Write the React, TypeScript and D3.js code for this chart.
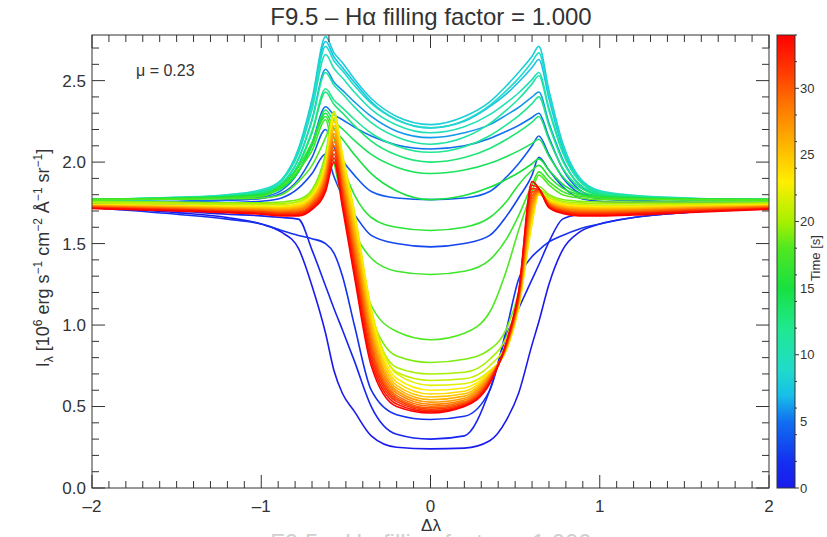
import React, { useEffect } from "react";
import * as d3 from "d3";

const dl = [-2.0, -1.5, -1.2, -1.0, -0.88, -0.78, -0.7, -0.62, -0.57, -0.52, -0.45, -0.35, -0.2, 0, 0.2, 0.35, 0.45, 0.52, 0.6, 0.64, 0.7, 0.78, 0.88, 1.0, 1.2, 1.5, 2.0];

// H-alpha intensity profiles, one per time step
const t00 = [1.72, 1.69, 1.66, 1.62, 1.57, 1.47, 1.24, 0.95, 0.72, 0.58, 0.47, 0.32, 0.25, 0.24, 0.245, 0.29, 0.42, 0.58, 0.88, 1.02, 1.25, 1.46, 1.57, 1.62, 1.66, 1.69, 1.72];
const t01 = [1.72, 1.70, 1.68, 1.67, 1.66, 1.65, 1.46, 1.24, 1.10, 0.97, 0.78, 0.50, 0.33, 0.30, 0.32, 0.60, 0.94, 1.10, 1.28, 1.37, 1.51, 1.65, 1.68, 1.69, 1.70, 1.71, 1.72];
const t02 = [1.72, 1.68, 1.65, 1.62, 1.58, 1.55, 1.53, 1.50, 1.44, 1.30, 1.00, 0.60, 0.45, 0.42, 0.44, 0.60, 0.98, 1.28, 1.42, 1.46, 1.51, 1.55, 1.59, 1.62, 1.66, 1.69, 1.72];
const t03 = [1.74, 1.745, 1.75, 1.76, 1.78, 1.84, 1.93, 2.05, 1.91, 1.79, 1.68, 1.55, 1.50, 1.48, 1.50, 1.55, 1.67, 1.78, 1.92, 2.03, 1.95, 1.85, 1.78, 1.76, 1.75, 1.745, 1.74];
const t04 = [1.75, 1.757, 1.764, 1.777, 1.809, 1.894, 2.029, 2.20, 2.09, 2.01, 1.92, 1.82, 1.78, 1.77, 1.78, 1.82, 1.91, 1.99, 2.10, 2.16, 2.045, 1.906, 1.81, 1.775, 1.762, 1.754, 1.75];
const t05 = [1.75, 1.76, 1.768, 1.785, 1.827, 1.94, 2.116, 2.34, 2.29, 2.26, 2.215, 2.16, 2.105, 2.08, 2.10, 2.145, 2.19, 2.225, 2.274, 2.30, 2.15, 1.96, 1.83, 1.78, 1.767, 1.755, 1.75];
const t06 = [1.76, 1.772, 1.784, 1.81, 1.865, 2.019, 2.262, 2.57, 2.49, 2.44, 2.37, 2.28, 2.19, 2.15, 2.18, 2.23, 2.29, 2.335, 2.40, 2.43, 2.24, 2.02, 1.86, 1.80, 1.78, 1.767, 1.76];
const t07 = [1.76, 1.775, 1.79, 1.82, 1.887, 2.074, 2.368, 2.74, 2.645, 2.58, 2.49, 2.37, 2.26, 2.21, 2.25, 2.34, 2.42, 2.49, 2.58, 2.63, 2.39, 2.09, 1.89, 1.81, 1.79, 1.77, 1.76];
const t08 = [1.76, 1.775, 1.79, 1.82, 1.891, 2.083, 2.386, 2.77, 2.67, 2.61, 2.51, 2.39, 2.28, 2.23, 2.28, 2.37, 2.47, 2.55, 2.65, 2.71, 2.44, 2.12, 1.90, 1.82, 1.79, 1.77, 1.76];
const t09 = [1.77, 1.784, 1.80, 1.83, 1.892, 2.071, 2.353, 2.71, 2.62, 2.56, 2.47, 2.36, 2.26, 2.21, 2.256, 2.348, 2.44, 2.514, 2.615, 2.67, 2.42, 2.11, 1.905, 1.824, 1.797, 1.78, 1.77];
const t10 = [1.77, 1.783, 1.797, 1.823, 1.886, 2.055, 2.322, 2.66, 2.574, 2.516, 2.43, 2.324, 2.228, 2.18, 2.217, 2.291, 2.365, 2.424, 2.506, 2.55, 2.33, 2.07, 1.887, 1.817, 1.793, 1.778, 1.77];
const t11 = [1.77, 1.782, 1.793, 1.817, 1.871, 2.02, 2.254, 2.55, 2.471, 2.418, 2.339, 2.242, 2.154, 2.11, 2.152, 2.236, 2.32, 2.387, 2.48, 2.53, 2.317, 2.059, 1.884, 1.816, 1.793, 1.778, 1.77];
const t12 = [1.77, 1.78, 1.79, 1.811, 1.858, 1.988, 2.192, 2.45, 2.38, 2.333, 2.263, 2.177, 2.099, 2.06, 2.094, 2.162, 2.23, 2.284, 2.359, 2.40, 2.224, 2.009, 1.865, 1.808, 1.789, 1.776, 1.77];
const t13 = [1.77, 1.78, 1.79, 1.81, 1.856, 1.981, 2.179, 2.43, 2.353, 2.301, 2.224, 2.129, 2.043, 2.00, 2.028, 2.084, 2.14, 2.185, 2.246, 2.28, 2.137, 1.964, 1.847, 1.80, 1.785, 1.775, 1.77];
const t14 = [1.77, 1.778, 1.787, 1.803, 1.842, 1.946, 2.111, 2.32, 2.25, 2.203, 2.133, 2.047, 1.969, 1.93, 1.951, 1.993, 2.035, 2.069, 2.115, 2.14, 2.036, 1.911, 1.826, 1.792, 1.781, 1.774, 1.77];
const t15 = [1.77, 1.778, 1.786, 1.80, 1.839, 1.94, 2.099, 2.30, 2.205, 2.141, 2.046, 1.929, 1.823, 1.77, 1.795, 1.845, 1.895, 1.935, 1.99, 2.02, 1.95, 1.865, 1.808, 1.785, 1.778, 1.773, 1.77];
const t16 = [1.77, 1.776, 1.783, 1.795, 1.86, 1.97, 2.12, 2.28, 2.15, 1.98, 1.80, 1.66, 1.60, 1.58, 1.60, 1.66, 1.76, 1.86, 1.95, 1.98, 1.91, 1.84, 1.80, 1.785, 1.776, 1.772, 1.77];
const t17 = [1.77, 1.775, 1.78, 1.79, 1.85, 1.95, 2.07, 2.26, 2.00, 1.76, 1.57, 1.41, 1.33, 1.31, 1.33, 1.40, 1.53, 1.67, 1.86, 1.94, 1.88, 1.82, 1.79, 1.78, 1.775, 1.77, 1.77];
const t18 = [1.77, 1.772, 1.775, 1.78, 1.80, 1.88, 1.98, 2.15, 2.27, 1.87, 1.51, 1.12, 0.96, 0.91, 0.95, 1.08, 1.34, 1.58, 1.82, 1.92, 1.86, 1.80, 1.78, 1.77, 1.77, 1.77, 1.765];
const t19 = [1.76, 1.755, 1.75, 1.75, 1.755, 1.77, 1.83, 2.05, 2.30, 1.98, 1.62, 1.06, 0.81, 0.77, 0.79, 0.85, 0.98, 1.20, 1.68, 1.85, 1.80, 1.77, 1.76, 1.755, 1.755, 1.755, 1.755];
const t20 = [1.755, 1.75, 1.745, 1.745, 1.745, 1.76, 1.82, 2.02, 2.31, 2.0, 1.64, 1.07, 0.74, 0.70, 0.71, 0.79, 0.93, 1.16, 1.66, 1.83, 1.79, 1.76, 1.75, 1.745, 1.745, 1.745, 1.75];
const t21 = [1.75, 1.745, 1.74, 1.74, 1.74, 1.755, 1.81, 2.01, 2.30, 2.02, 1.67, 1.09, 0.71, 0.66, 0.67, 0.75, 0.89, 1.13, 1.64, 1.81, 1.78, 1.75, 1.74, 1.735, 1.735, 1.74, 1.745];
const t22 = [1.74, 1.735, 1.73, 1.73, 1.73, 1.745, 1.80, 2.00, 2.30, 2.05, 1.70, 1.10, 0.70, 0.63, 0.64, 0.72, 0.85, 1.10, 1.62, 1.80, 1.77, 1.745, 1.735, 1.73, 1.73, 1.735, 1.74];
const t23 = [1.738, 1.732, 1.727, 1.726, 1.725, 1.739, 1.793, 1.985, 2.275, 2.023, 1.667, 1.071, 0.672, 0.600, 0.614, 0.713, 0.854, 1.108, 1.642, 1.803, 1.766, 1.740, 1.730, 1.725, 1.725, 1.731, 1.738];
const t24 = [1.736, 1.729, 1.723, 1.722, 1.720, 1.733, 1.785, 1.970, 2.250, 1.995, 1.633, 1.042, 0.650, 0.577, 0.594, 0.707, 0.858, 1.117, 1.663, 1.807, 1.762, 1.735, 1.724, 1.720, 1.721, 1.728, 1.735];
const t25 = [1.734, 1.726, 1.720, 1.718, 1.715, 1.726, 1.778, 1.955, 2.225, 1.968, 1.600, 1.013, 0.630, 0.558, 0.578, 0.700, 0.863, 1.125, 1.685, 1.810, 1.758, 1.730, 1.719, 1.715, 1.716, 1.724, 1.733];
const t26 = [1.732, 1.723, 1.717, 1.713, 1.710, 1.720, 1.770, 1.940, 2.200, 1.940, 1.567, 0.983, 0.613, 0.542, 0.564, 0.693, 0.867, 1.133, 1.707, 1.813, 1.753, 1.725, 1.713, 1.710, 1.712, 1.720, 1.730];
const t27 = [1.730, 1.720, 1.713, 1.709, 1.705, 1.714, 1.763, 1.925, 2.175, 1.913, 1.533, 0.954, 0.597, 0.527, 0.551, 0.687, 0.871, 1.142, 1.728, 1.817, 1.749, 1.720, 1.708, 1.705, 1.707, 1.716, 1.728];
const t28 = [1.728, 1.718, 1.710, 1.705, 1.700, 1.708, 1.755, 1.910, 2.150, 1.885, 1.500, 0.925, 0.582, 0.513, 0.540, 0.680, 0.875, 1.150, 1.750, 1.820, 1.745, 1.715, 1.703, 1.700, 1.703, 1.713, 1.725];
const t29 = [1.725, 1.715, 1.707, 1.701, 1.695, 1.701, 1.748, 1.895, 2.125, 1.858, 1.467, 0.896, 0.567, 0.502, 0.530, 0.673, 0.879, 1.158, 1.772, 1.823, 1.741, 1.710, 1.697, 1.695, 1.698, 1.709, 1.723];
const t30 = [1.723, 1.712, 1.703, 1.697, 1.690, 1.695, 1.740, 1.880, 2.100, 1.830, 1.433, 0.867, 0.555, 0.492, 0.522, 0.667, 0.883, 1.167, 1.793, 1.827, 1.737, 1.705, 1.692, 1.690, 1.693, 1.705, 1.720];
const t31 = [1.721, 1.709, 1.700, 1.693, 1.685, 1.689, 1.733, 1.865, 2.075, 1.803, 1.400, 0.838, 0.543, 0.483, 0.515, 0.660, 0.888, 1.175, 1.815, 1.830, 1.733, 1.700, 1.686, 1.685, 1.689, 1.701, 1.718];
const t32 = [1.719, 1.706, 1.697, 1.688, 1.680, 1.683, 1.725, 1.850, 2.050, 1.775, 1.367, 0.808, 0.530, 0.475, 0.509, 0.653, 0.892, 1.183, 1.837, 1.833, 1.728, 1.695, 1.681, 1.680, 1.684, 1.698, 1.715];
const t33 = [1.717, 1.703, 1.693, 1.684, 1.675, 1.676, 1.718, 1.835, 2.025, 1.748, 1.333, 0.779, 0.515, 0.467, 0.504, 0.647, 0.896, 1.192, 1.858, 1.837, 1.724, 1.690, 1.675, 1.675, 1.680, 1.694, 1.713];
const t34 = [1.715, 1.70, 1.69, 1.68, 1.67, 1.67, 1.71, 1.82, 2.00, 1.72, 1.30, 0.75, 0.50, 0.46, 0.50, 0.64, 0.90, 1.20, 1.88, 1.84, 1.72, 1.685, 1.67, 1.67, 1.675, 1.69, 1.71];

const times = [0, 1, 2, 3, 4, 5, 6, 7, 8, 9, 10, 11, 12, 13, 14, 15, 16, 17, 18, 19, 20, 21, 22, 23, 24, 25, 26, 27, 28, 29, 30, 31, 32, 33, 34];
const profiles = [t00, t01, t02, t03, t04, t05, t06, t07, t08, t09, t10, t11, t12, t13, t14, t15, t16, t17, t18, t19, t20, t21, t22, t23, t24, t25, t26, t27, t28, t29, t30, t31, t32, t33, t34];

const xMajor = [-2, -1, 0, 1, 2];
const yMajor = [0, 0.5, 1, 1.5, 2, 2.5];
const cbMajor = [0, 5, 10, 15, 20, 25, 30];
const colorTimes = [0, 2, 5, 7, 9, 12, 15, 18, 20, 23, 26, 29, 31, 34];
const colorHex = ["#1a1aee", "#1430f0", "#1070f0", "#18c0e8", "#20dcc8", "#20e890", "#18e040", "#50e820", "#a8f000", "#ffee00", "#ffb000", "#ff7000", "#ff4000", "#ff0000"];

const title = "F9.5 \u2013 H\u03b1 filling factor = 1.000";
const muLabel = "\u03bc = 0.23";

const FONT = "'Liberation Sans', Arial, Helvetica, sans-serif";
const INK = "#333";

export default function App() {
  useEffect(() => {
    document.body.style.margin = "0";
    document.body.style.overflow = "hidden";
  }, []);

  const x = d3.scaleLinear().domain([-2, 2]).range([92, 769]);
  const y = d3.scaleLinear().domain([0, 2.78]).range([488, 35]);
  const tY = d3.scaleLinear().domain([0, 34]).range([488, 35]);
  const color = d3.scaleLinear<string>().domain(colorTimes).range(colorHex);

  const line = d3
    .line<number>()
    .x((_, i) => x(dl[i]))
    .y((v) => y(v))
    .curve(d3.curveMonotoneX);

  const [x0, x1] = x.range();
  const [y0, y1] = y.range();
  const xMinor = x.ticks(40);
  const yMinor = y.ticks(30);
  const cbMinor = tY.ticks(14);

  return (
    <svg width={827} height={537} style={{ display: "block", background: "#fff" }} fontFamily={FONT}>
      <defs>
        <clipPath id="plot">
          <rect x={x0} y={y1} width={x1 - x0} height={y0 - y1} />
        </clipPath>
        <linearGradient id="cbar" x1="0" y1="1" x2="0" y2="0">
          {colorTimes.map((t, i) => (
            <stop key={i} offset={t / 34} stopColor={colorHex[i]} />
          ))}
        </linearGradient>
      </defs>

      <text x={431} y={25} textAnchor="middle" fontSize={24} fill={INK}>
        {title}
      </text>

      <g clipPath="url(#plot)" fill="none" strokeWidth={1.6} strokeLinejoin="round">
        {profiles.map((p, i) => (
          <path key={i} d={line(p) ?? ""} stroke={color(times[i])} />
        ))}
      </g>

      {/* frame and ticks */}
      <rect x={x0} y={y1} width={x1 - x0} height={y0 - y1} fill="none" stroke={INK} strokeWidth={1} />
      <g stroke={INK} strokeWidth={1}>
        {xMinor.map((v) => {
          const big = xMajor.includes(+v.toFixed(1));
          const len = big ? 13 : 7;
          return (
            <g key={"xt" + v}>
              <line x1={x(v)} x2={x(v)} y1={y0} y2={y0 - len} />
              <line x1={x(v)} x2={x(v)} y1={y1} y2={y1 + len} />
            </g>
          );
        })}
        {yMinor.map((v) => {
          const big = yMajor.includes(+v.toFixed(1));
          const len = big ? 13 : 7;
          return (
            <g key={"yt" + v}>
              <line x1={x0} x2={x0 + len} y1={y(v)} y2={y(v)} />
              <line x1={x1} x2={x1 - len} y1={y(v)} y2={y(v)} />
            </g>
          );
        })}
      </g>

      <g fontSize={17} fill={INK}>
        {xMajor.map((v) => (
          <text key={"xl" + v} x={x(v)} y={512} textAnchor="middle">
            {v < 0 ? "\u2013" + Math.abs(v) : String(v)}
          </text>
        ))}
        {yMajor.map((v) => (
          <text key={"yl" + v} x={86} y={y(v)} dy="0.35em" textAnchor="end">
            {v.toFixed(1)}
          </text>
        ))}
      </g>

      <text x={431} y={531} textAnchor="middle" fontSize={17} fill={INK}>
        {"\u0394\u03bb"}
      </text>

      <text x={136} y={76} fontSize={16} fill={INK}>
        {muLabel}
      </text>

      <g transform="translate(49,258) rotate(-90)">
        <text textAnchor="middle" fontSize={18} fill={INK}>
          <tspan>I</tspan>
          <tspan fontSize={12} dy={4}>{"\u03bb"}</tspan>
          <tspan dy={-4}>{" [10"}</tspan>
          <tspan fontSize={12} dy={-7}>6</tspan>
          <tspan dy={7}>{" erg s"}</tspan>
          <tspan fontSize={12} dy={-7}>{"\u22121"}</tspan>
          <tspan dy={7}>{" cm"}</tspan>
          <tspan fontSize={12} dy={-7}>{"\u22122"}</tspan>
          <tspan dy={7}>{" \u00c5"}</tspan>
          <tspan fontSize={12} dy={-7}>{"\u22121"}</tspan>
          <tspan dy={7}>{" sr"}</tspan>
          <tspan fontSize={12} dy={-7}>{"\u22121"}</tspan>
          <tspan dy={7}>]</tspan>
        </text>
      </g>

      {/* colour bar */}
      <rect x={777} y={35} width={18} height={453} fill="url(#cbar)" stroke={INK} strokeWidth={1} />
      <g stroke={INK} strokeWidth={1}>
        {cbMinor.map((v) => (
          <line key={"cb" + v} x1={795} x2={cbMajor.includes(v) ? 799 : 797} y1={tY(v)} y2={tY(v)} />
        ))}
      </g>
      <g fontSize={13} fill={INK}>
        {cbMajor.map((v) => (
          <text key={"cl" + v} x={800} y={tY(v)} dy="0.35em">
            {v}
          </text>
        ))}
      </g>
      <text transform="translate(820,258) rotate(-90)" textAnchor="middle" fontSize={13} fill={INK}>
        Time [s]
      </text>

      {/* title of the following panel, cut by the page edge */}
      <text x={431} y={551} textAnchor="middle" fontSize={24} fill="#d0d0d0">
        {title}
      </text>
    </svg>
  );
}
